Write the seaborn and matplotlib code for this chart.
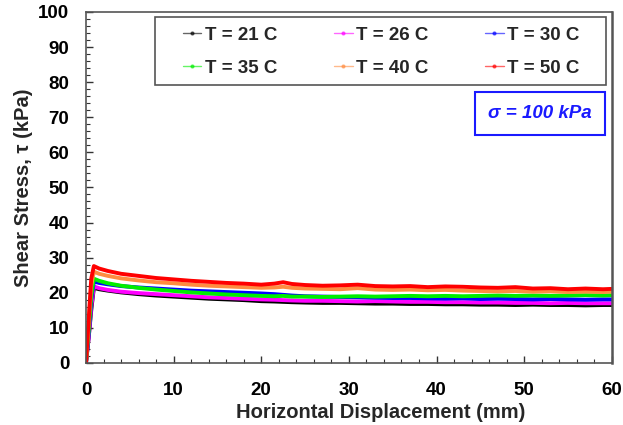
import matplotlib
matplotlib.use("Agg")
import matplotlib.pyplot as plt
import pandas as pd
import seaborn as sns
from matplotlib.lines import Line2D
from matplotlib.patches import Rectangle
from matplotlib.ticker import MultipleLocator

# horizontal displacement (mm)
disp = [0, 0.3, 0.6, 0.9, 1.5, 2.5, 4, 6, 8, 10, 12, 14, 16, 18, 20, 21.5, 22.5,
        23.5, 25, 27, 29, 31, 33, 35, 37, 39, 41, 43, 45, 47, 49, 51, 53, 55, 57,
        59, 60]

t21 = [0, 7, 15, 21.4, 21.0, 20.6, 20.1, 19.6, 19.2, 18.9, 18.6, 18.3, 18.1, 17.9,
       17.6, 17.5, 17.4, 17.3, 17.2, 17.1, 17.1, 17.0, 16.9, 16.9, 16.8, 16.8, 16.7,
       16.7, 16.6, 16.6, 16.5, 16.6, 16.5, 16.5, 16.4, 16.5, 16.5]
t26 = [0, 7, 16, 21.8, 21.3, 20.8, 20.3, 19.9, 19.6, 19.3, 19.0, 18.7, 18.5, 18.3,
       18.1, 18.0, 17.9, 17.8, 17.7, 17.7, 17.6, 17.5, 17.6, 17.5, 17.4, 17.4, 17.3,
       17.3, 17.2, 17.2, 17.1, 17.1, 17.0, 17.1, 17.0, 17.0, 17.0]
t30 = [0, 8, 18, 23.2, 22.8, 22.4, 21.9, 21.5, 21.2, 20.9, 20.6, 20.4, 20.2, 20.0,
       19.8, 19.6, 19.4, 19.2, 19.0, 18.9, 18.8, 18.7, 18.6, 18.5, 18.5, 18.4, 18.3,
       18.4, 18.2, 18.3, 18.2, 18.1, 18.2, 18.1, 18.0, 18.1, 18.1]
t35 = [0, 9, 19, 24.0, 23.4, 22.7, 22.0, 21.4, 20.9, 20.5, 20.1, 19.8, 19.5, 19.3,
       19.1, 19.0, 19.1, 18.9, 18.9, 18.8, 18.9, 19.0, 18.9, 19.0, 19.1, 19.0, 19.1,
       19.0, 19.1, 19.2, 19.1, 19.2, 19.1, 19.2, 19.3, 19.2, 19.3]
t40 = [0, 11, 22, 26.0, 25.4, 24.8, 24.1, 23.5, 23.0, 22.7, 22.3, 22.0, 21.8, 21.6,
       21.4, 21.5, 21.7, 21.4, 21.2, 21.1, 21.0, 21.3, 20.9, 20.8, 20.9, 20.7, 20.8,
       20.6, 20.5, 20.4, 20.5, 20.3, 20.4, 20.2, 20.3, 20.2, 20.3]
t50 = [0, 12, 24, 27.6, 26.9, 26.2, 25.4, 24.8, 24.2, 23.8, 23.4, 23.1, 22.8, 22.6,
       22.3, 22.6, 23.0, 22.5, 22.2, 22.0, 22.1, 22.3, 21.9, 21.8, 21.9, 21.6, 21.8,
       21.7, 21.5, 21.4, 21.6, 21.2, 21.3, 21.0, 21.2, 21.0, 21.1]

labels = ["T = 21 C", "T = 26 C", "T = 30 C", "T = 35 C", "T = 40 C", "T = 50 C"]
colors = ["#000000", "#ff00ff", "#0000ff", "#00ee00", "#ff8c40", "#ff0000"]
series = [t21, t26, t30, t35, t40, t50]

frames = []
for lab, vals in zip(labels, series):
    frames.append(pd.DataFrame({"disp": disp, "tau": vals, "temp": lab}))
df = pd.concat(frames, ignore_index=True)

sns.set_theme(style="white")
plt.rcParams["font.family"] = ["Liberation Sans", "DejaVu Sans"]

fig = plt.figure(figsize=(6.23, 4.25), dpi=100)
ax = fig.add_axes([0.138, 0.146, 0.844, 0.826])

palette = dict(zip(labels, colors))
sns.lineplot(data=df, x="disp", y="tau", hue="temp", palette=palette,
             hue_order=labels, estimator=None, sort=False, linewidth=2.8,
             legend=False, ax=ax)

ax.set_xlim(0, 60)
ax.set_ylim(0, 100)
ax.xaxis.set_major_locator(MultipleLocator(10))
ax.xaxis.set_minor_locator(MultipleLocator(2))
ax.yaxis.set_major_locator(MultipleLocator(10))
ax.yaxis.set_minor_locator(MultipleLocator(2))
ax.tick_params(which="both", direction="in", colors="#333333", labelcolor="black",
               labelsize=13.5, bottom=True, left=True)
ax.tick_params(which="major", length=5, width=1)
ax.tick_params(which="minor", length=3, width=0.8)
ax.tick_params(axis="x", which="both", pad=13.5)
ax.tick_params(axis="y", which="both", pad=12)
for lbl in ax.get_xticklabels() + ax.get_yticklabels():
    lbl.set_fontweight("bold")
for sp in ax.spines.values():
    sp.set_color("#555555")
    sp.set_linewidth(1.2)
ax.spines["right"].set_linewidth(1.8)

ax.set_xlabel("Horizontal Displacement (mm)", fontsize=14.5, fontweight="bold",
              labelpad=3)
ax.xaxis.label.set_x(0.561)
ax.set_ylabel("Shear Stress, τ (kPa)", fontsize=14.5, fontweight="bold", labelpad=4)

# legend laid out row by row, like the reference (matplotlib fills by column)
order = [0, 3, 1, 4, 2, 5]
handles = [Line2D([0], [0], color=colors[i], lw=1, alpha=0.6, marker=".",
                  markersize=4, markerfacecolor=colors[i], markeredgecolor=colors[i])
           for i in order]
leg = ax.legend(handles, [labels[i] for i in order], ncol=3, loc="upper left",
                bbox_to_anchor=(0.184, 0.5, 0.755, 0.458), mode="expand",
                frameon=False, handlelength=1.0, handletextpad=0.2,
                labelspacing=0.85, borderaxespad=0, borderpad=0,
                prop={"weight": "bold", "size": 13.5})
ax.add_patch(Rectangle((0.131, 0.792), 0.858, 0.194, transform=ax.transAxes,
                       facecolor="none", edgecolor="#555555", linewidth=1.2,
                       zorder=5))

ax.text(0.863, 0.711, "σ = 100 kPa", transform=ax.transAxes, ha="center",
        va="center", fontsize=13.5, fontweight="bold", style="italic",
        color="#1a1aff",
        bbox=dict(boxstyle="square,pad=0.7", facecolor="white", edgecolor="#1a1aff",
                  linewidth=1.5))

fig.savefig("out.png", dpi=100)
